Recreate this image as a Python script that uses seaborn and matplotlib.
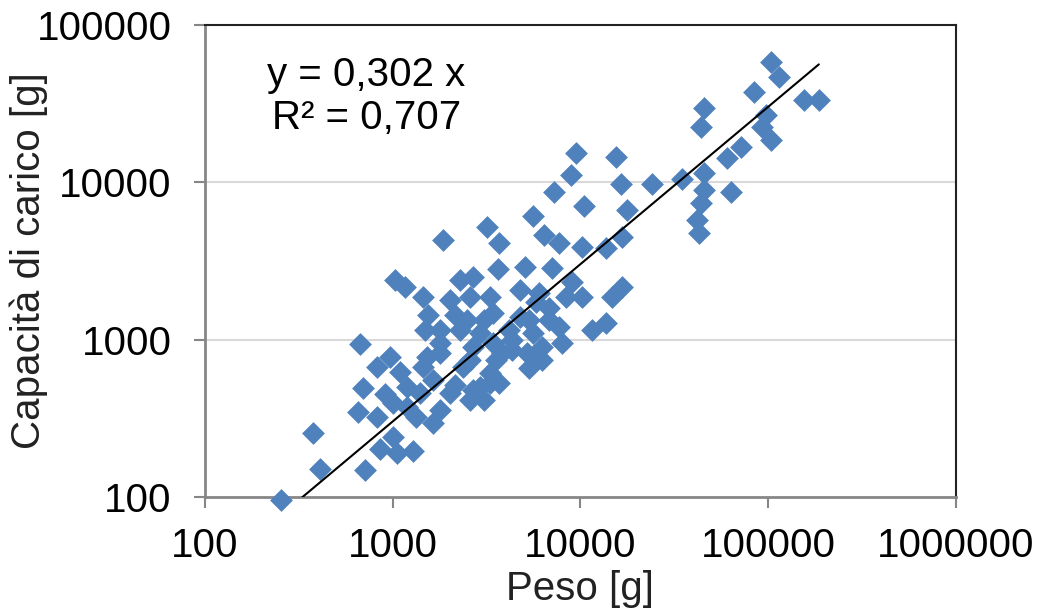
import numpy as np
import pandas as pd
import matplotlib
matplotlib.use("Agg")
import matplotlib.pyplot as plt
import seaborn as sns
from matplotlib.ticker import FixedLocator, FixedFormatter, NullLocator

# Data: weight [g] and load capacity [g]
peso = [254, 375, 409, 667, 710, 964, 822, 1089, 692, 906, 1186, 652, 822, 1000, 1325,
        1000, 853, 1050, 1276, 1633, 1517, 1778, 1845, 1025, 1158, 1445, 1535, 2009,
        2270, 2667, 2570, 3281, 4745, 6055, 2477, 3404, 4745, 6840, 5833, 1778, 2270,
        2904, 1778, 2667, 3404, 5559, 6280, 5164, 1445, 1633, 2356, 2904, 3281, 2009,
        1393, 1186, 1778, 2570, 3162, 3707, 5559, 6440, 3622, 5093, 7096, 7727, 10256,
        13740, 16710, 9060, 10256, 16710, 14790, 6840, 11590, 13740, 6280, 8017, 4345,
        5833, 3573, 3281, 2667, 8436, 5357, 7727, 4345, 3846, 3707, 9530, 15520, 8955,
        16520, 24150, 7278, 10500, 17780, 34900, 103700, 114500, 84300, 155200, 186600,
        45710, 44060, 97500, 92900, 103700, 71800, 60550, 45710, 45710, 63500, 44060,
        41880, 42970,
        2138, 3083, 4188, 2570, 5357, 2138, 3083, 1479]
capacita = [96, 255, 151, 940, 149, 776, 670, 624, 493, 452, 500, 347, 323, 396, 323,
            240, 202, 190, 196, 295, 776, 953, 4305, 2400, 2163, 1866, 1436, 1786,
            2400, 2506, 1866, 1866, 2070, 1982, 1334, 1479, 1393, 1592, 1738, 1153, 1153,
            1103, 822, 899, 953, 1103, 743, 822, 670, 555, 670, 500, 531, 459,
            459, 373, 357, 414, 5200, 4123, 6110, 4634, 2812, 2897, 2857, 4123, 3882,
            3828, 4498, 2328, 1866, 2163, 1866, 1334, 1153, 1276, 899, 953, 861,
            743, 743, 614, 479, 1866, 1334, 1205, 996, 822, 531, 15380, 14490, 11140,
            9772, 9772, 8690, 7080, 6680, 10520, 58200, 46800, 37600, 33400, 33400,
            29700, 22490, 26800, 22490, 18620, 16790, 14290, 11480, 8950, 8690, 7400,
            5770, 4770,
            1436, 1334, 1153, 743, 661, 515, 414, 1153]

slope = 0.302
eq_text = "y = 0,302 x"
r2_text = "R² = 0,707"
ticks = [100, 1000, 10000, 100000, 1000000]
tick_labels = ["100", "1000", "10000", "100000", "1000000"]
yticks = [100, 1000, 10000, 100000]
ytick_labels = ["100", "1000", "10000", "100000"]

df = pd.DataFrame({"Peso": peso, "Capacita": capacita})

sns.set_theme(style="white")
plt.rcParams["font.family"] = ["Liberation Sans", "DejaVu Sans"]

fig = plt.figure(figsize=(10.41, 6.15), dpi=100)
ax = fig.add_axes([0.197, 0.192, 0.721, 0.767])

ax.set_xscale("log")
ax.set_yscale("log")
ax.set_xlim(100, 1000000)
ax.set_ylim(100, 100000)

for yv in [1000, 10000]:
    ax.axhline(yv, color="#D9D9D9", lw=1.5, zorder=0)

sns.scatterplot(data=df, x="Peso", y="Capacita", marker="D", s=135,
                color="#4F81BD", linewidth=0, ax=ax, zorder=3, clip_on=False)

xl = np.logspace(np.log10(min(peso)), np.log10(max(peso)), 50)
ax.plot(xl, slope * xl, color="black", lw=1.5, zorder=4)

ax.xaxis.set_major_locator(FixedLocator(ticks))
ax.xaxis.set_major_formatter(FixedFormatter(tick_labels))
ax.yaxis.set_major_locator(FixedLocator(yticks))
ax.yaxis.set_major_formatter(FixedFormatter(ytick_labels))
ax.xaxis.set_minor_locator(NullLocator())
ax.yaxis.set_minor_locator(NullLocator())

ax.tick_params(axis="both", which="major", labelsize=29, length=8, width=1.5,
               color="#868686", direction="out", labelcolor="black")
ax.tick_params(axis="x", pad=14)
ax.tick_params(axis="y", pad=16)
ax.xaxis.set_ticks_position("bottom")
ax.yaxis.set_ticks_position("left")

for side in ["left", "bottom"]:
    ax.spines[side].set_color("#868686")
    ax.spines[side].set_linewidth(2)
for side in ["top", "right"]:
    ax.spines[side].set_color("#222222")
    ax.spines[side].set_linewidth(1.5)
    ax.spines[side].set_visible(True)

ax.set_xlabel("Peso [g]", fontsize=29, color="#222222")
ax.set_ylabel("Capacità di carico [g]", fontsize=29, color="#222222")
ax.yaxis.set_label_coords(-0.209, 0.5)
ax.xaxis.set_label_coords(0.5, -0.155)

ax.text(0.215, 0.894, eq_text, transform=ax.transAxes, fontsize=29,
        ha="center", va="center", color="black")
ax.text(0.215, 0.803, r2_text, transform=ax.transAxes, fontsize=29,
        ha="center", va="center", color="black")

fig.savefig("out.png", dpi=100)
